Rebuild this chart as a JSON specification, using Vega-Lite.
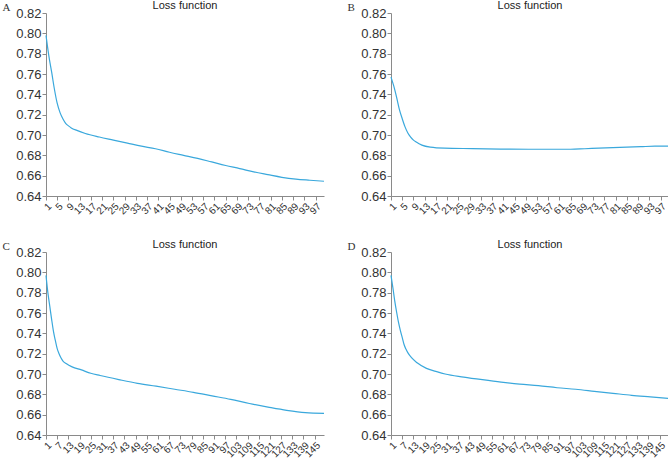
{
  "$schema": "https://vega.github.io/schema/vega-lite/v6.json",
  "padding": {"left": 2, "top": 0, "right": 0, "bottom": 0},
  "background": "white",
  "columns": 2,
  "spacing": {"column": 20, "row": 23},
  "config": {
    "view": {"stroke": null},
    "font": "Liberation Sans",
    "axis": {"grid": false, "domainColor": "#8a8a8a", "tickColor": "#8a8a8a", "tickSize": 4, "labelColor": "#333333", "labelFont": "Liberation Sans"},
    "axisY": {"labelFontSize": 13, "labelPadding": 1},
    "axisX": {"labelFontSize": 10, "labelAngle": -45, "labelPadding": 1, "labelOverlap": false, "labelFlush": false},
    "title": {"fontSize": 11, "fontWeight": "normal", "font": "Liberation Sans", "color": "#222222", "offset": -10, "frame": "group", "anchor": "middle"},
    "line": {"color": "#3aa8dc", "strokeWidth": 1.2, "interpolate": "monotone"}
  },
  "datasets": {
    "A": [
      {"epoch": 1, "loss": 0.798}, {"epoch": 2, "loss": 0.778}, {"epoch": 3, "loss": 0.762}, {"epoch": 4, "loss": 0.745},
      {"epoch": 5, "loss": 0.731}, {"epoch": 6, "loss": 0.722}, {"epoch": 7, "loss": 0.716}, {"epoch": 8, "loss": 0.7115},
      {"epoch": 9, "loss": 0.709}, {"epoch": 10, "loss": 0.707}, {"epoch": 12, "loss": 0.7045}, {"epoch": 15, "loss": 0.7015},
      {"epoch": 20, "loss": 0.698}, {"epoch": 25, "loss": 0.695}, {"epoch": 30, "loss": 0.692}, {"epoch": 35, "loss": 0.689},
      {"epoch": 40, "loss": 0.6865}, {"epoch": 45, "loss": 0.683}, {"epoch": 50, "loss": 0.680}, {"epoch": 55, "loss": 0.677},
      {"epoch": 60, "loss": 0.6735}, {"epoch": 65, "loss": 0.670}, {"epoch": 70, "loss": 0.667}, {"epoch": 75, "loss": 0.6637},
      {"epoch": 80, "loss": 0.661}, {"epoch": 85, "loss": 0.6584}, {"epoch": 90, "loss": 0.6566}, {"epoch": 95, "loss": 0.6555},
      {"epoch": 100, "loss": 0.6545}
    ],
    "B": [
      {"epoch": 1, "loss": 0.757}, {"epoch": 2, "loss": 0.748}, {"epoch": 3, "loss": 0.737}, {"epoch": 4, "loss": 0.725},
      {"epoch": 5, "loss": 0.716}, {"epoch": 6, "loss": 0.708}, {"epoch": 7, "loss": 0.702}, {"epoch": 8, "loss": 0.698},
      {"epoch": 9, "loss": 0.695}, {"epoch": 10, "loss": 0.693}, {"epoch": 12, "loss": 0.690}, {"epoch": 15, "loss": 0.688},
      {"epoch": 20, "loss": 0.687}, {"epoch": 30, "loss": 0.6866}, {"epoch": 40, "loss": 0.6862}, {"epoch": 50, "loss": 0.686},
      {"epoch": 60, "loss": 0.686}, {"epoch": 65, "loss": 0.686}, {"epoch": 70, "loss": 0.6865}, {"epoch": 75, "loss": 0.687},
      {"epoch": 80, "loss": 0.6875}, {"epoch": 85, "loss": 0.688}, {"epoch": 90, "loss": 0.6885}, {"epoch": 95, "loss": 0.689},
      {"epoch": 100, "loss": 0.689}
    ],
    "C": [
      {"epoch": 1, "loss": 0.797}, {"epoch": 2, "loss": 0.780}, {"epoch": 3, "loss": 0.767}, {"epoch": 4, "loss": 0.754},
      {"epoch": 5, "loss": 0.742}, {"epoch": 6, "loss": 0.733}, {"epoch": 7, "loss": 0.725}, {"epoch": 8, "loss": 0.720},
      {"epoch": 9, "loss": 0.716}, {"epoch": 10, "loss": 0.713}, {"epoch": 12, "loss": 0.710}, {"epoch": 15, "loss": 0.707},
      {"epoch": 20, "loss": 0.704}, {"epoch": 25, "loss": 0.7007}, {"epoch": 30, "loss": 0.6985}, {"epoch": 40, "loss": 0.6945},
      {"epoch": 50, "loss": 0.6908}, {"epoch": 60, "loss": 0.688}, {"epoch": 70, "loss": 0.685}, {"epoch": 80, "loss": 0.682},
      {"epoch": 90, "loss": 0.6785}, {"epoch": 100, "loss": 0.675}, {"epoch": 110, "loss": 0.671}, {"epoch": 120, "loss": 0.6675},
      {"epoch": 130, "loss": 0.6643}, {"epoch": 140, "loss": 0.662}, {"epoch": 150, "loss": 0.6613}
    ],
    "D": [
      {"epoch": 1, "loss": 0.797}, {"epoch": 2, "loss": 0.785}, {"epoch": 3, "loss": 0.772}, {"epoch": 4, "loss": 0.761},
      {"epoch": 5, "loss": 0.751}, {"epoch": 6, "loss": 0.743}, {"epoch": 7, "loss": 0.736}, {"epoch": 8, "loss": 0.729},
      {"epoch": 9, "loss": 0.7245}, {"epoch": 10, "loss": 0.721}, {"epoch": 12, "loss": 0.716}, {"epoch": 15, "loss": 0.711},
      {"epoch": 20, "loss": 0.7055}, {"epoch": 25, "loss": 0.7026}, {"epoch": 30, "loss": 0.700}, {"epoch": 40, "loss": 0.697},
      {"epoch": 50, "loss": 0.6944}, {"epoch": 60, "loss": 0.692}, {"epoch": 70, "loss": 0.690}, {"epoch": 80, "loss": 0.6885},
      {"epoch": 90, "loss": 0.6865}, {"epoch": 100, "loss": 0.685}, {"epoch": 110, "loss": 0.683}, {"epoch": 120, "loss": 0.681},
      {"epoch": 130, "loss": 0.679}, {"epoch": 140, "loss": 0.6775}, {"epoch": 150, "loss": 0.676}
    ]
  },
  "concat": [
    {
      "data": {"name": "A"},
      "width": 278, "height": 183,
      "title": "Loss function",
      "mark": {"type": "line"},
      "encoding": {
        "x": {"field": "epoch", "type": "quantitative", "scale": {"domain": [1, 100], "nice": false, "zero": false},
              "axis": {"title": null, "values": [1,5,9,13,17,21,25,29,33,37,41,45,49,53,57,61,65,69,73,77,81,85,89,93,97]}},
        "y": {"field": "loss", "type": "quantitative", "scale": {"domain": [0.64, 0.82], "nice": false, "zero": false},
              "axis": {"format": ".2f", "values": [0.64,0.66,0.68,0.70,0.72,0.74,0.76,0.78,0.80,0.82], "title": "A", "titleAngle": 0, "titleFont": "Liberation Serif", "titleFontSize": 11, "titleFontWeight": "normal", "titleColor": "#333333", "titleAlign": "left", "titleBaseline": "top", "titleX": -44, "titleY": -12}}
      }
    },
    {
      "data": {"name": "B"},
      "width": 278, "height": 183,
      "title": "Loss function",
      "mark": {"type": "line"},
      "encoding": {
        "x": {"field": "epoch", "type": "quantitative", "scale": {"domain": [1, 100], "nice": false, "zero": false},
              "axis": {"title": null, "values": [1,5,9,13,17,21,25,29,33,37,41,45,49,53,57,61,65,69,73,77,81,85,89,93,97]}},
        "y": {"field": "loss", "type": "quantitative", "scale": {"domain": [0.64, 0.82], "nice": false, "zero": false},
              "axis": {"format": ".2f", "values": [0.64,0.66,0.68,0.70,0.72,0.74,0.76,0.78,0.80,0.82], "title": "B", "titleAngle": 0, "titleFont": "Liberation Serif", "titleFontSize": 11, "titleFontWeight": "normal", "titleColor": "#333333", "titleAlign": "left", "titleBaseline": "top", "titleX": -44, "titleY": -12}}
      }
    },
    {
      "data": {"name": "C"},
      "width": 278, "height": 183,
      "title": "Loss function",
      "mark": {"type": "line"},
      "encoding": {
        "x": {"field": "epoch", "type": "quantitative", "scale": {"domain": [1, 150], "nice": false, "zero": false},
              "axis": {"title": null, "values": [1,7,13,19,25,31,37,43,49,55,61,67,73,79,85,91,97,103,109,115,121,127,133,139,145]}},
        "y": {"field": "loss", "type": "quantitative", "scale": {"domain": [0.64, 0.82], "nice": false, "zero": false},
              "axis": {"format": ".2f", "values": [0.64,0.66,0.68,0.70,0.72,0.74,0.76,0.78,0.80,0.82], "title": "C", "titleAngle": 0, "titleFont": "Liberation Serif", "titleFontSize": 11, "titleFontWeight": "normal", "titleColor": "#333333", "titleAlign": "left", "titleBaseline": "top", "titleX": -44, "titleY": -12}}
      }
    },
    {
      "data": {"name": "D"},
      "width": 278, "height": 183,
      "title": "Loss function",
      "mark": {"type": "line"},
      "encoding": {
        "x": {"field": "epoch", "type": "quantitative", "scale": {"domain": [1, 150], "nice": false, "zero": false},
              "axis": {"title": null, "values": [1,7,13,19,25,31,37,43,49,55,61,67,73,79,85,91,97,103,109,115,121,127,133,139,145]}},
        "y": {"field": "loss", "type": "quantitative", "scale": {"domain": [0.64, 0.82], "nice": false, "zero": false},
              "axis": {"format": ".2f", "values": [0.64,0.66,0.68,0.70,0.72,0.74,0.76,0.78,0.80,0.82], "title": "D", "titleAngle": 0, "titleFont": "Liberation Serif", "titleFontSize": 11, "titleFontWeight": "normal", "titleColor": "#333333", "titleAlign": "left", "titleBaseline": "top", "titleX": -44, "titleY": -12}}
      }
    }
  ]
}
